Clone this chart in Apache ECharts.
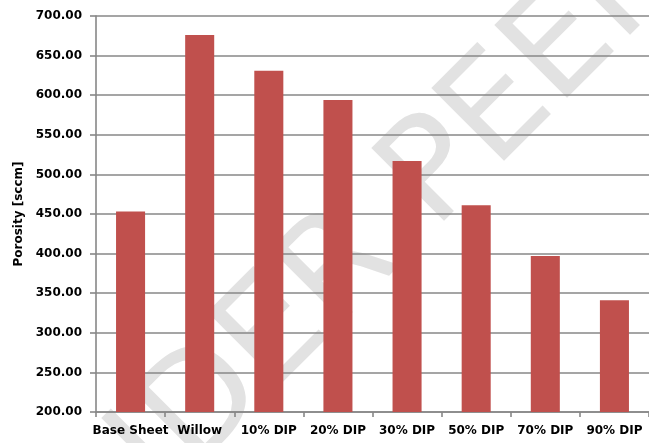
<!DOCTYPE html>
<html>
<head>
<meta charset="utf-8">
<style>
  html, body { margin: 0; padding: 0; background: #fff; }
  #chart { width: 649px; height: 443px; }
</style>
<script src="https://cdn.jsdelivr.net/npm/echarts@6/dist/echarts.min.js"></script>
</head>
<body>
<div id="chart"></div>
<script>
// Sample names along the x axis
const categories = ['Base Sheet', 'Willow', '10% DIP', '20% DIP', '30% DIP', '50% DIP', '70% DIP', '90% DIP'];
// Measured porosity per sample, sccm
const porosity = [453, 676, 631, 594, 517, 461, 397, 341];
// Value axis range and step
const yMin = 200;
const yMax = 700;
const yStep = 50;
const watermarkText = 'UNDER PEER REVIEW';

const labelFont = { fontFamily: 'DejaVu Sans', fontWeight: 'bold', fontSize: 12, color: '#000' };
const gridGray = '#878787';

const chart = echarts.init(document.getElementById('chart'), null, { renderer: 'canvas' });

chart.setOption({
  animation: false,
  backgroundColor: '#fff',
  grid: { left: 96, top: 16, width: 557, height: 396, containLabel: false },
  graphic: [{
    type: 'text',
    z: -10,
    x: 20,
    y: 593,
    rotation: Math.PI / 4,
    silent: true,
    style: {
      text: watermarkText,
      fontFamily: 'DejaVu Sans',
      fontSize: 141,
      fill: '#e2e2e2',
      align: 'left',
      verticalAlign: 'middle'
    }
  }],
  xAxis: {
    type: 'category',
    data: categories,
    boundaryGap: true,
    axisLine: { show: true, lineStyle: { color: gridGray, width: 1.6 } },
    axisTick: { show: true, length: 5, lineStyle: { color: gridGray, width: 1.6 } },
    axisLabel: Object.assign({ margin: 13, interval: 0 }, labelFont),
    splitLine: { show: false }
  },
  yAxis: {
    type: 'value',
    min: yMin,
    max: yMax,
    interval: yStep,
    name: 'Porosity [sccm]',
    nameLocation: 'middle',
    nameRotate: 90,
    nameGap: 70,
    nameTextStyle: labelFont,
    axisLine: { show: true, lineStyle: { color: gridGray, width: 1.6 } },
    axisTick: { show: true, length: 6, lineStyle: { color: gridGray, width: 1.6 } },
    axisLabel: Object.assign({ margin: 14, formatter: v => v.toFixed(2) }, labelFont),
    splitLine: { show: true, lineStyle: { color: gridGray, width: 1.6 } }
  },
  series: [{
    type: 'bar',
    data: porosity,
    barCategoryGap: '58%',
    itemStyle: { color: '#C0504D' }
  }]
});
</script>
</body>
</html>
